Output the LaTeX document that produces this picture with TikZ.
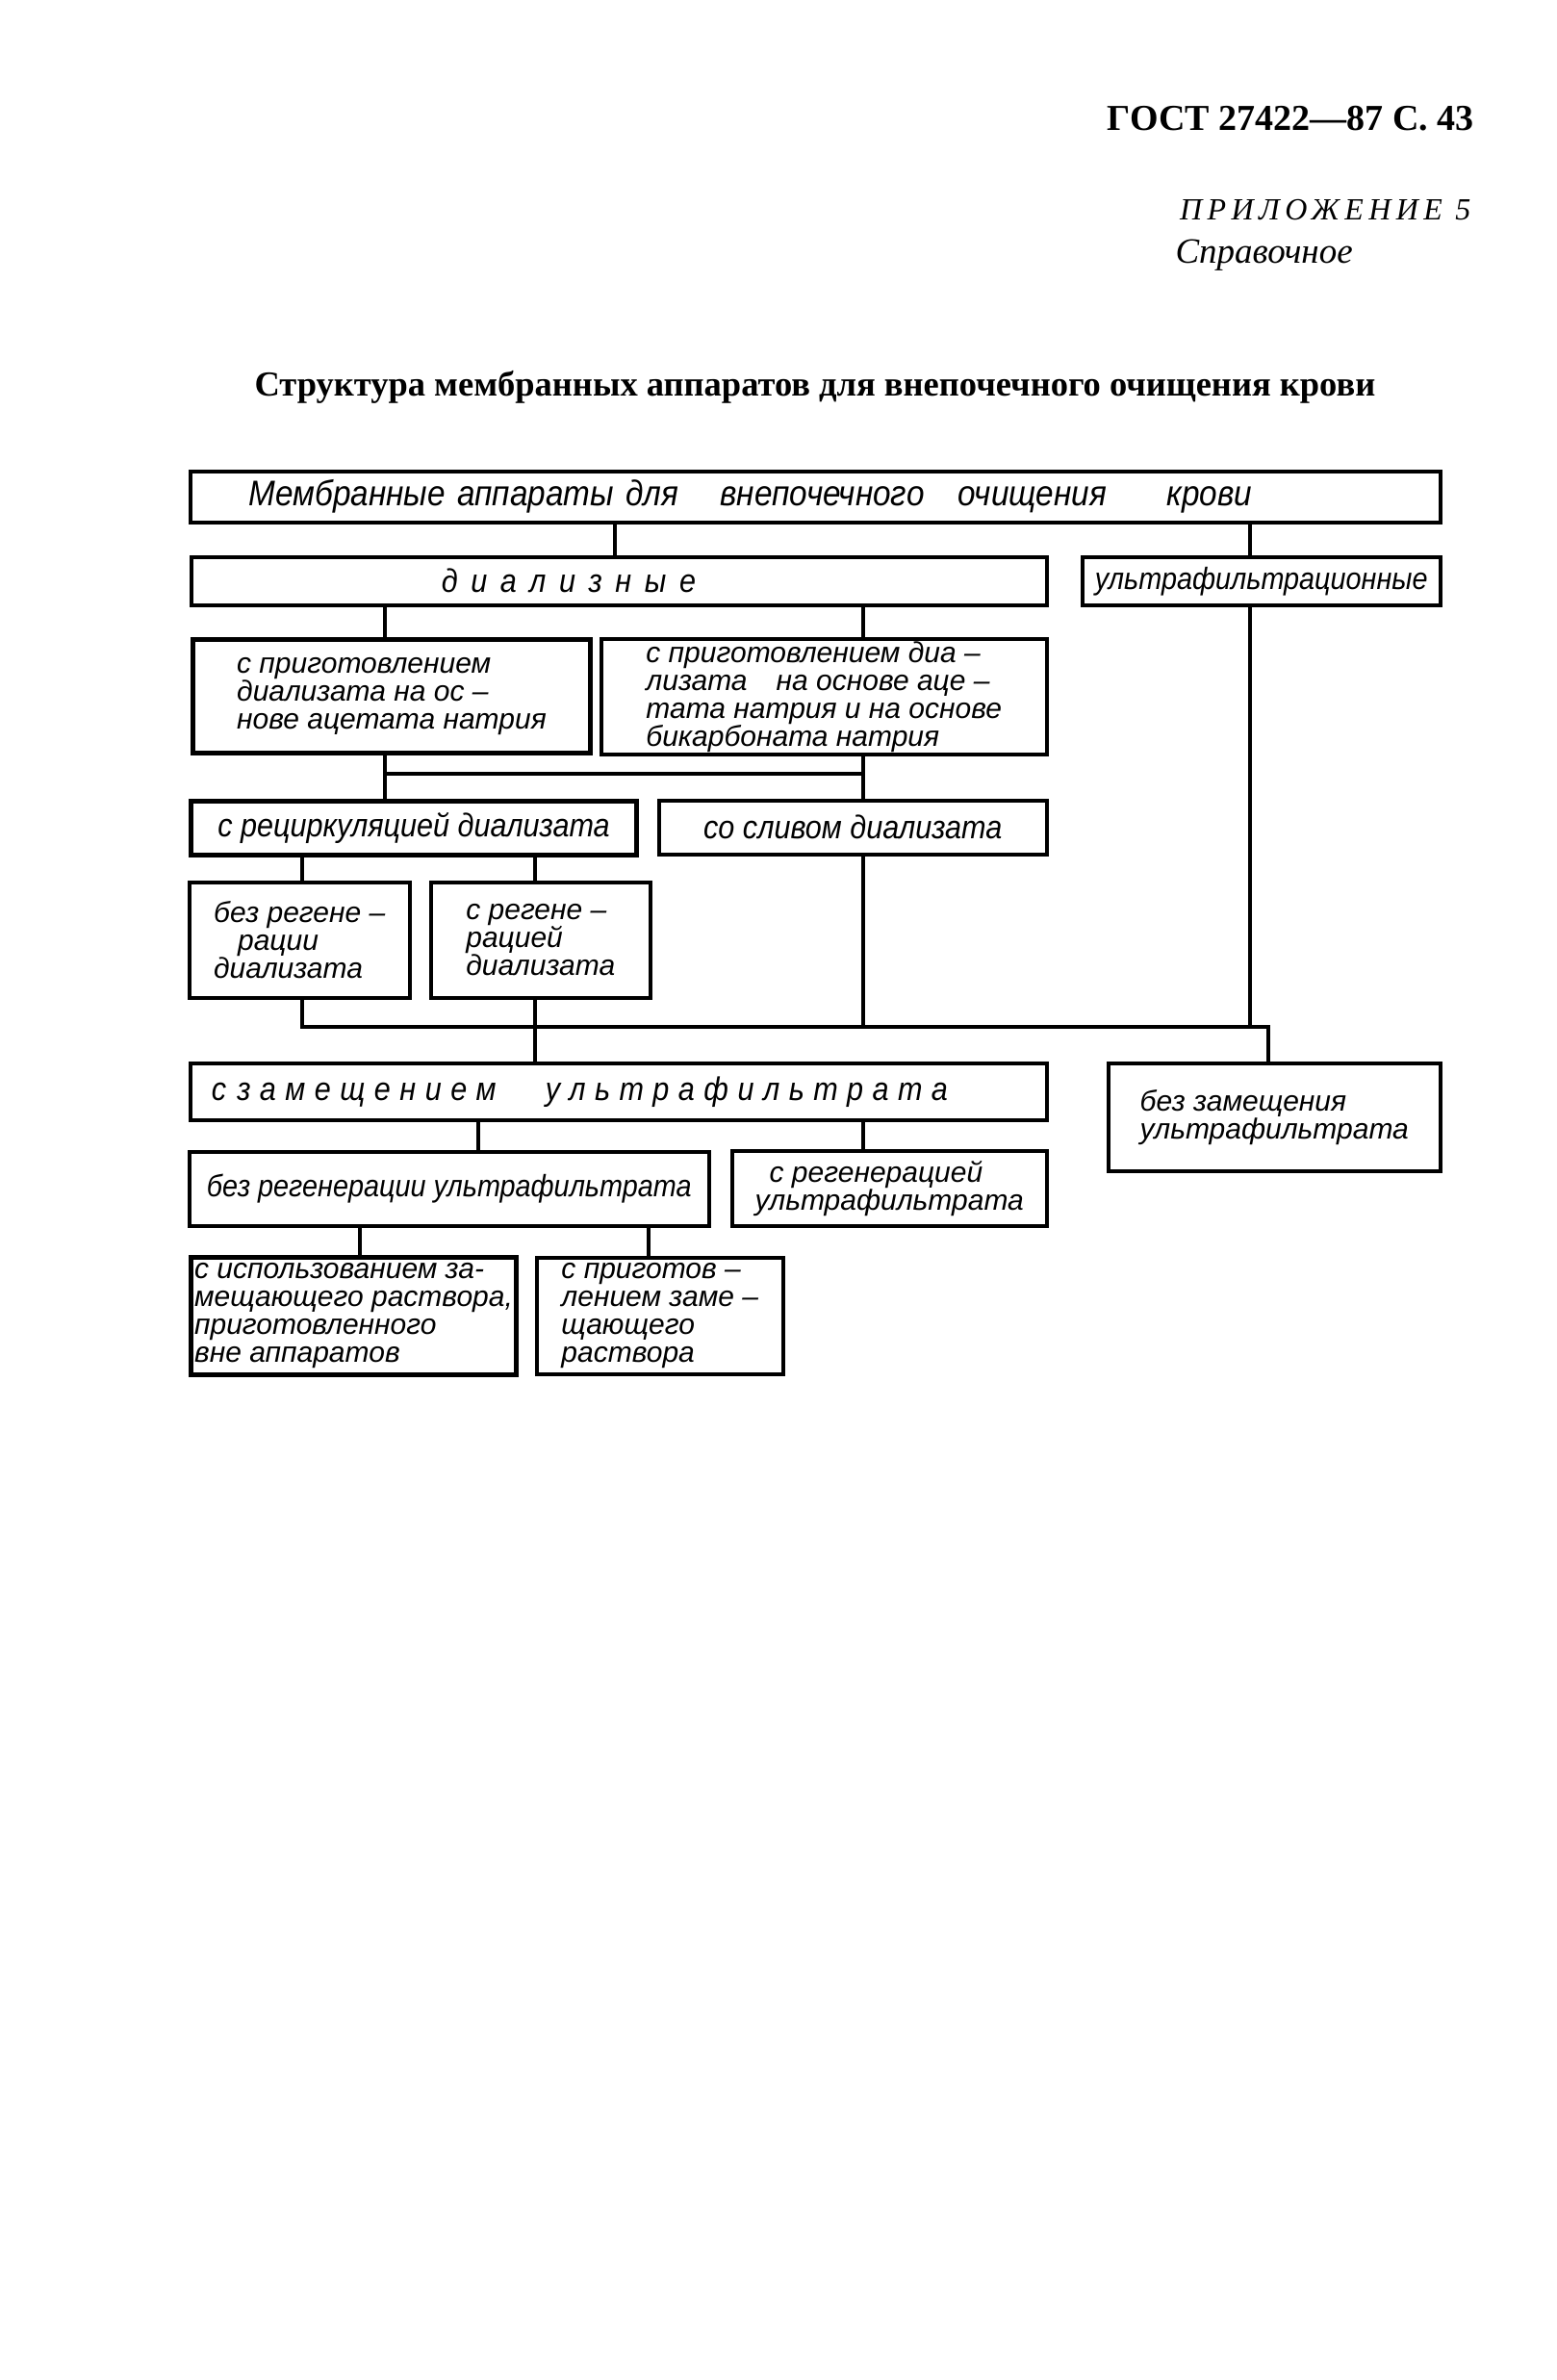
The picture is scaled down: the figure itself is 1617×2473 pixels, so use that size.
\documentclass[tikz,border=0pt]{standalone}
\usepackage{fontspec}
\setmainfont{Liberation Serif}
\newfontfamily\handfont[FakeStretch=0.9]{Liberation Sans}
\newfontfamily\handplain{Liberation Sans}
\usetikzlibrary{calc}

\tikzset{
  box/.style={draw, line width=3.5pt, anchor=north west, inner xsep=2pt, inner ysep=0pt,
    align=left, font=\handfont\itshape\fontsize{34}{36}\selectfont},
  multibox/.style={box, font=\handplain\itshape\fontsize{30}{29}\selectfont},
  heavy/.style={line width=5pt},
  link/.style={line width=3.2pt},
}

\begin{document}
\begin{tikzpicture}[x=1pt,y=-1pt]
\useasboundingbox (0,0) rectangle (1617,2473);

% Page head
\node[anchor=east, font=\bfseries\fontsize{38}{40}\selectfont] (gost) at (1535,123) {ГОСТ 27422—87 С. 43};
\node[anchor=east, font=\itshape\fontsize{32}{34}\selectfont] (appx) at (1532,218) {\addfontfeature{LetterSpace=17}ПРИЛОЖЕНИЕ 5};
\node[anchor=west, font=\itshape\fontsize{37}{39}\selectfont] (refnote) at (1218,265) {Справочное};
\node[font=\bfseries\fontsize{36.5}{38}\selectfont] (title) at (847,402) {Структура мембранных аппаратов для внепочечного очищения крови};

% Boxes
\node[box, font=\handfont\itshape\fontsize{37}{39}\selectfont, minimum width=1299pt, minimum height=53pt,
  text width=1177pt, inner xsep=61pt] (top) at (196,488)
  {Мембранные аппараты для\hspace{31pt} внепочечного\hspace{23pt} очищения\hspace{50pt} крови};
\node[box, minimum width=889pt, minimum height=50pt, text width=369pt, inner xsep=260pt] (dial) at (197,577)
  {\addfontfeature{LetterSpace=40}диализные};
\node[box, font=\handfont\itshape\fontsize{32}{34}\selectfont, minimum width=372pt, minimum height=50pt] (uf) at (1123,577)
  {ультрафильтрационные};
\node[multibox, heavy, minimum width=413pt, minimum height=118pt] (acet) at (198,662)
  {с приготовлением\\ диализата на ос –\\ нове ацетата натрия};
\node[multibox, minimum width=463pt, minimum height=120pt] (bicarb) at (623,662)
  {с приготовлением диа –\\ лизата\quad на основе аце –\\ тата натрия и на основе\\ бикарбоната натрия};
\node[box, heavy, minimum width=463pt, minimum height=56pt] (recirc) at (196,830) {с рециркуляцией диализата};
\node[box, minimum width=403pt, minimum height=56pt] (drain) at (683,830) {со сливом диализата};
\node[multibox, minimum width=229pt, minimum height=120pt] (noregd) at (195,915)
  {без регене –\\ \hspace*{25pt}рации\\ диализата};
\node[multibox, minimum width=228pt, minimum height=120pt] (regd) at (446,915)
  {с регене –\\ рацией\\ диализата};
\node[box, minimum width=890pt, minimum height=59pt, text width=846pt, inner xsep=22pt] (subst) at (196,1103)
  {\addfontfeature{LetterSpace=28}с замещением\hspace{40pt} ультрафильтрата};
\node[multibox, minimum width=345pt, minimum height=112pt] (nosubst) at (1150,1103)
  {без замещения\\ ультрафильтрата};
\node[box, font=\handfont\itshape\fontsize{32}{34}\selectfont, minimum width=540pt, minimum height=77pt] (noreguf) at (195,1195)
  {без регенерации ультрафильтрата};
\node[multibox, minimum width=327pt, minimum height=78pt] (reguf) at (759,1194)
  {\hspace*{15pt}с регенерацией\\ ультрафильтрата};
\node[multibox, heavy, minimum width=338pt, minimum height=122pt] (ext) at (196,1304)
  {с использованием за-\\ мещающего раствора,\\ приготовленного\\ вне аппаратов};
\node[multibox, minimum width=256pt, minimum height=121pt] (prep) at (556,1305)
  {с приготов –\\ лением заме –\\ щающего\\ раствора};

% Columns of the connectors
\coordinate (k314) at (314,0);
\coordinate (k374) at (374,0);
\coordinate (k400) at (400,0);
\coordinate (k497) at (497,0);
\coordinate (k556) at (556,0);
\coordinate (k639) at (639,0);
\coordinate (k674) at (674,0);
\coordinate (k897) at (897,0);
\coordinate (k1299) at (1299,0);
\coordinate (bus1w) at (400,804);
\coordinate (bus1e) at (897,804);
\coordinate (bus2e) at (1318,1067);

% Connectors
\draw[link] (top.south -| k639) -- (dial.north -| k639);
\draw[link] (top.south -| k1299) -- (uf.north -| k1299);
\draw[link] (dial.south -| k400) -- (acet.north -| k400);
\draw[link] (dial.south -| k897) -- (bicarb.north -| k897);
\draw[link] (acet.south -| k400) -- (recirc.north -| k400);
\draw[link] (bicarb.south -| k897) -- (drain.north -| k897);
\draw[link] (bus1w) -- (bus1e);
\draw[link] (recirc.south -| k314) -- (noregd.north -| k314);
\draw[link] (recirc.south -| k556) -- (regd.north -| k556);
\draw[link] (noregd.south -| k314) |- (bus2e) -- (nosubst.north -| bus2e);
\draw[link] (drain.south -| k897) -- (k897 |- bus2e);
\draw[link] (uf.south -| k1299) -- (k1299 |- bus2e);
\draw[link] (regd.south -| k556) -- (subst.north -| k556);
\draw[link] (subst.south -| k497) -- (noreguf.north -| k497);
\draw[link] (subst.south -| k897) -- (reguf.north -| k897);
\draw[link] (noreguf.south -| k374) -- (ext.north -| k374);
\draw[link] (noreguf.south -| k674) -- (prep.north -| k674);
\end{tikzpicture}
\end{document}
